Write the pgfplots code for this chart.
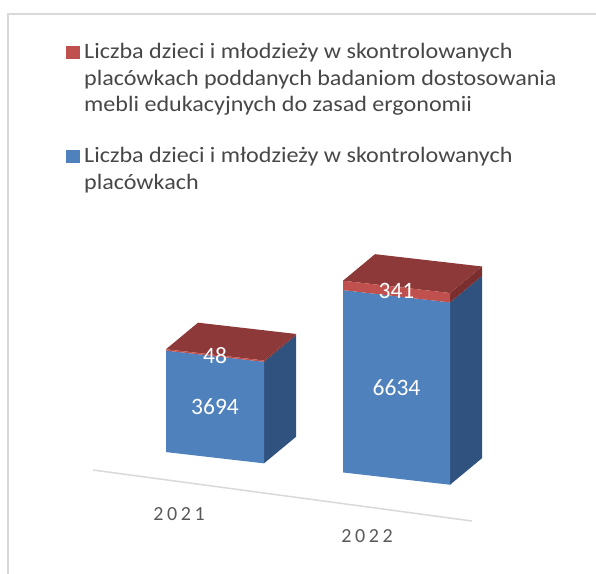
\documentclass[border=0pt]{standalone}
\usepackage{pgfplots}
\pgfplotsset{compat=1.18}
\usepackage{fontspec}
\setmainfont{Carlito}
\newfontfamily\spacedfont[LetterSpace=18]{Carlito}
\newfontfamily\legfont[FakeStretch=1.095]{Carlito}
\definecolor{frontblue}{HTML}{4F81BD}
\definecolor{sideblue}{HTML}{30527F}
\definecolor{frontred}{HTML}{C0504D}
\definecolor{topred}{HTML}{8E3939}
\definecolor{sidered}{HTML}{7A2F2E}
\definecolor{legtext}{HTML}{474747}
\definecolor{ticktext}{HTML}{595959}
\definecolor{frameline}{HTML}{D9D9D9}
\begin{document}
\begin{tikzpicture}
\useasboundingbox (0,0) rectangle (596bp,574bp);
% outer frame
\draw[frameline, line width=1.5bp] (8bp,0bp) -- (8bp,560bp) -- (596bp,560bp);
% floor line
\draw[frameline, line width=1.5bp] (93bp,104bp) -- (472bp,53bp);
% legend
\fill[frontred] (66bp,515bp) rectangle (80bp,528bp);
\fill[frontblue] (66bp,411bp) rectangle (80bp,424bp);
\begin{scope}[every node/.style={anchor=base west, inner sep=0pt, text=legtext, font=\legfont\fontsize{22bp}{26.6bp}\selectfont}]
\node at (84bp,515bp) {Liczba dzieci i młodzieży w skontrolowanych};
\node at (84bp,488.5bp) {placówkach poddanych badaniom dostosowania};
\node at (84bp,462bp) {mebli edukacyjnych do zasad ergonomii};
\node at (84bp,411bp) {Liczba dzieci i młodzieży w skontrolowanych};
\node at (84bp,384bp) {placówkach};
\end{scope}
\begin{axis}[
  x={(1bp,-0.115bp)}, y={(0bp,0.0275bp)},
  anchor=origin, at={(0bp,141bp)},
  xmin=0, xmax=600, ymin=-2200, ymax=9000,
  clip=false,
  axis line style={draw=none},
  major tick length=0pt,
  ytick=\empty,
  xtick={179,367}, xticklabels={2021,2022},
  xticklabel style={anchor=center, text=ticktext, font=\spacedfont\fontsize{20bp}{22bp}\selectfont},
  every axis plot/.append style={draw=none, mark=none, forget plot},
]
% ---- 2021: blue 3694, red 48 (total 3742); front x 166..264, depth (32, 1100)
\addplot[fill=sideblue] coordinates {(264,0) (296,1100) (296,4794) (264,3694)};
\addplot[fill=sidered] coordinates {(264,3694) (296,4794) (296,4842) (264,3742)};
\addplot[fill=topred] coordinates {(166,3742) (264,3742) (296,4842) (198,4842)};
\addplot[fill=frontblue] coordinates {(166,0) (264,0) (264,3694) (166,3694)};
\addplot[fill=frontred] coordinates {(166,3694) (264,3694) (264,3742) (166,3742)};
% ---- 2022: blue 6634, red 341 (total 6975); front x 343..450
\addplot[fill=sideblue] coordinates {(450,0) (482,1100) (482,7734) (450,6634)};
\addplot[fill=sidered] coordinates {(450,6634) (482,7734) (482,8075) (450,6975)};
\addplot[fill=topred] coordinates {(343,6975) (450,6975) (482,8075) (375,8075)};
\addplot[fill=frontblue] coordinates {(343,0) (450,0) (450,6634) (343,6634)};
\addplot[fill=frontred] coordinates {(343,6634) (450,6634) (450,6975) (343,6975)};
% value labels
\begin{scope}[every node/.style={text=white, inner sep=0pt, font=\fontsize{23.5bp}{26bp}\selectfont}]
\node at (axis cs:215,1847) {3694};
\node at (axis cs:215,3718) {48};
\node at (axis cs:396.5,3317) {6634};
\node at (axis cs:396.5,6830) {341};
\end{scope}
\end{axis}
\end{tikzpicture}
\end{document}
